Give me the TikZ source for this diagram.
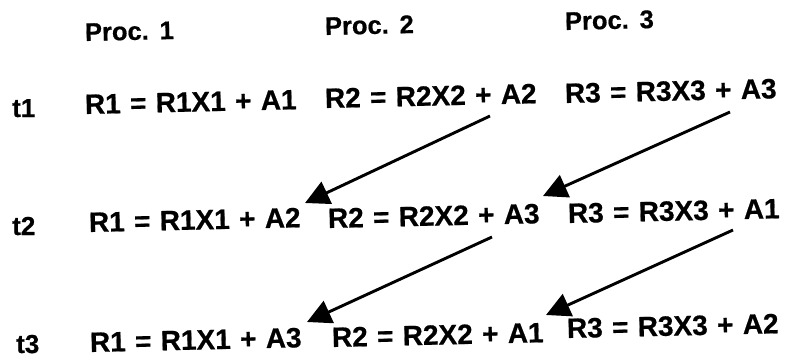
\documentclass[tikz,border=0pt]{standalone}
\usepackage{fontspec}
\setmainfont{Liberation Sans}[WordSpace=1.2, BoldFeatures={FakeBold=0.6}]
\usetikzlibrary{arrows.meta}
\tikzset{
  eqn/.style={anchor=base west, inner sep=0pt, rotate=1.3,
    font=\bfseries\fontsize{28}{32}\selectfont},
  proc/.style={anchor=base west, inner sep=0pt, rotate=1.3,
    font=\bfseries\fontsize{25.5}{30}\selectfont},
  tlab/.style={anchor=base west, inner sep=0pt,
    font=\bfseries\fontsize{26}{30}\selectfont},
  pass/.style={line width=2.9pt, -{Triangle[length=24pt,width=24pt]}}
}
\begin{document}
\begin{tikzpicture}[x=1pt,y=-1pt]
\useasboundingbox (0,0) rectangle (788,357);
% headers
\node[proc] (p1) at (85,41) {Proc. 1};
\node[proc] (p2) at (325,35) {Proc. 2};
\node[proc] (p3) at (565,30) {Proc. 3};
% time labels
\node[tlab] (t1) at (12,117) {t1};
\node[tlab] (t2) at (12,235) {t2};
\node[tlab] (t3) at (16,353) {t3};
% row 1
\node[eqn] (a1) at (85,114) {R1 = R1X1 + A1};
\node[eqn] (b1) at (325,108) {R2 = R2X2 + A2};
\node[eqn] (c1) at (565,103) {R3 = R3X3 + A3};
% row 2
\node[eqn] (a2) at (89,232) {R1 = R1X1 + A2};
\node[eqn] (b2) at (328,228) {R2 = R2X2 + A3};
\node[eqn] (c2) at (568,223) {R3 = R3X3 + A1};
% row 3
\node[eqn] (a3) at (90,352) {R1 = R1X1 + A3};
\node[eqn] (b3) at (332,347) {R2 = R2X2 + A1};
\node[eqn] (c3) at (567,338) {R3 = R3X3 + A2};
% arrow ends
\coordinate (s1) at (490,116);
\coordinate (e1) at (305,203);
\coordinate (s2) at (730,112);
\coordinate (e2) at (543,196);
\coordinate (s3) at (492,237);
\coordinate (e3) at (307,322);
\coordinate (s4) at (733,230);
\coordinate (e4) at (546,315);
\draw[pass] (s1) -- (e1);
\draw[pass] (s2) -- (e2);
\draw[pass] (s3) -- (e3);
\draw[pass] (s4) -- (e4);
\end{tikzpicture}
\end{document}
